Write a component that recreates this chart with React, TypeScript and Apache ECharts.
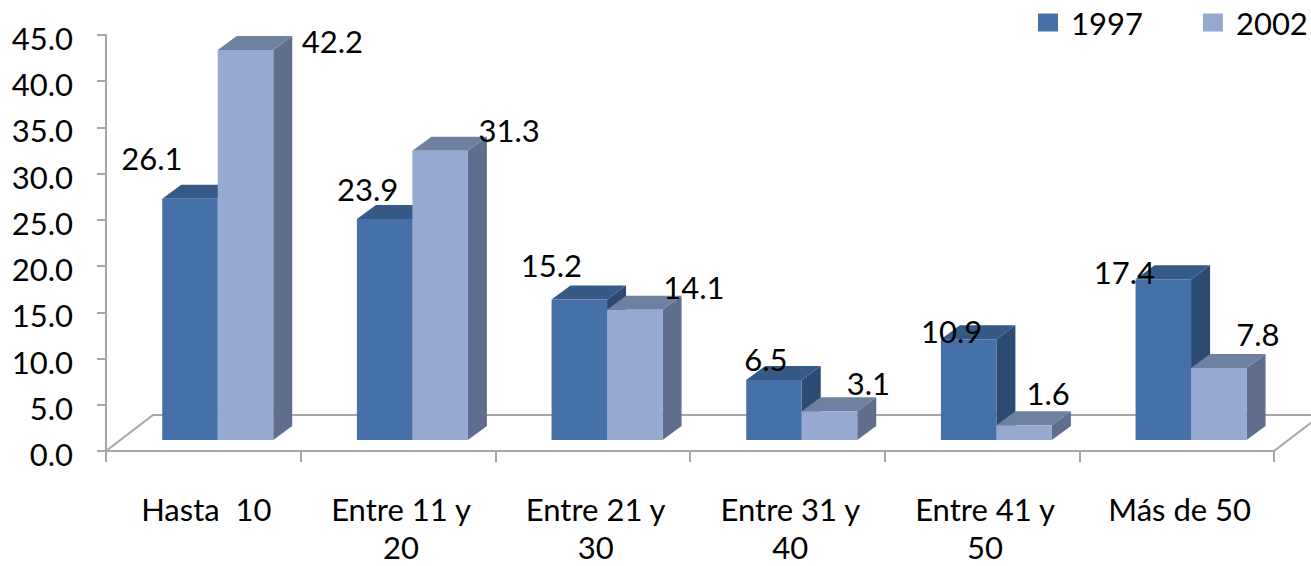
import React, { useEffect, useRef } from "react";
import * as echarts from "echarts";

const categories = ["Hasta  10", "Entre 11 y\n20", "Entre 21 y\n30", "Entre 31 y\n40", "Entre 41 y\n50", "Más de 50"];
const values1997 = [26.1, 23.9, 15.2, 6.5, 10.9, 17.4];
const values2002 = [42.2, 31.3, 14.1, 3.1, 1.6, 7.8];
const labelOffsets1997 = [[-38, -41], [-17, -30], [-28, -34], [-8, -21], [-17, -8], [-39, -7]];
const labelOffsets2002 = [[87, -9], [69, -21], [59, -23], [39, -28], [24, -32], [39, -34]];

const FONT = "Lato";
const FONT_SIZE = 31;
const GROUP_SHIFT = 14.4;
const BASE_LIFT = 11;
const BAR_W = 55.5;
const DX = 19;
const DY = 14;

function barRenderer(sign: number, front: string, top: string, side: string, offsets: number[][]) {
  return (params: any, api: any) => {
    const i = api.value(0);
    const v = api.value(1);
    const c = api.coord([i, v]);
    const c0 = api.coord([i, 0]);
    const xMid = c[0] + GROUP_SHIFT;
    const x0 = sign < 0 ? xMid - BAR_W : xMid;
    const x1 = x0 + BAR_W;
    const yTop = c[1] - BASE_LIFT;
    const yBot = c0[1] - BASE_LIFT;
    const off = offsets[params.dataIndex];
    return {
      type: "group",
      children: [
        { type: "polygon", shape: { points: [[x1, yTop], [x1 + DX, yTop - DY], [x1 + DX, yBot - DY], [x1, yBot]] }, style: { fill: side } },
        { type: "polygon", shape: { points: [[x0, yTop], [x0 + DX, yTop - DY], [x1 + DX, yTop - DY], [x1, yTop]] }, style: { fill: top } },
        { type: "rect", shape: { x: x0, y: yTop, width: BAR_W, height: yBot - yTop }, style: { fill: front } },
        {
          type: "text",
          z2: 100,
          style: {
            text: v.toFixed(1),
            x: (x0 + x1) / 2 + off[0],
            y: yTop + off[1],
            align: "center",
            verticalAlign: "middle",
            font: `${FONT_SIZE}px ${FONT}`,
            fill: "#000",
          },
        },
      ],
    };
  };
}

function floorRenderer(params: any) {
  const cs = params.coordSys;
  const x0 = cs.x;
  const x1 = cs.x + cs.width;
  const y0 = cs.y + cs.height;
  const yb = y0 - 36;
  const stroke = { stroke: "#a6a6a6", lineWidth: 2, fill: "none" };
  return {
    type: "group",
    children: [
      { type: "polyline", shape: { points: [[x0, y0], [x0 + 47, yb], [x1 + 47, yb], [x1, y0]] }, style: stroke },
    ],
  };
}

export default function App() {
  const ref = useRef<HTMLDivElement>(null);
  useEffect(() => {
    const chart = echarts.init(ref.current!, null, { renderer: "svg" });
    const axisLine = { show: true, lineStyle: { color: "#a6a6a6", width: 2 } };
    chart.setOption({
      animation: false,
      grid: { left: 106, right: 37, top: 35, bottom: 115, containLabel: false, outerBoundsMode: "none" },
      legend: {
        orient: "horizontal",
        left: 1038,
        top: 7,
        width: 273,
        itemWidth: 20,
        itemHeight: 18,
        itemGap: 60,
        padding: 0,
        icon: "rect",
        selectedMode: false,
        data: [
          { name: "1997", itemStyle: { color: "#4571a8" } },
          { name: "2002", itemStyle: { color: "#95a9d1" } },
        ],
        textStyle: { fontFamily: FONT, fontSize: FONT_SIZE, color: "#000", padding: [0, 0, 0, 8] },
      },
      xAxis: {
        type: "category",
        data: categories,
        axisLine,
        axisTick: { show: true, length: 11, alignWithLabel: false, lineStyle: { color: "#a6a6a6", width: 2 } },
        axisLabel: {
          interval: 0,
          margin: 39,
          fontFamily: FONT,
          fontSize: FONT_SIZE,
          color: "#000",
          lineHeight: 38,
          padding: [0, 0, 0, 6],
        },
      },
      yAxis: {
        type: "value",
        min: 0,
        max: 45,
        interval: 5,
        axisLine,
        axisTick: { show: true, length: 9, lineStyle: { color: "#a6a6a6", width: 2 } },
        splitLine: { show: false },
        axisLabel: {
          margin: 33,
          fontFamily: FONT,
          fontSize: FONT_SIZE,
          color: "#000",
          verticalAlign: "top",
          lineHeight: 6,
          formatter: (v: number) => v.toFixed(1),
        },
      },
      series: [
        {
          type: "custom",
          name: "floor",
          renderItem: floorRenderer,
          data: [[0, 0]],
          encode: { x: 0, y: 1 },
          silent: true,
          clip: false,
          z: 1,
        },
        {
          type: "custom",
          name: "1997",
          renderItem: barRenderer(-1, "#4571a8", "#345a85", "#2c4b73", labelOffsets1997),
          data: values1997.map((v, i) => [i, v]),
          encode: { x: 0, y: 1 },
          itemStyle: { color: "#4571a8" },
          clip: false,
          z: 2,
        },
        {
          type: "custom",
          name: "2002",
          renderItem: barRenderer(1, "#95a9d1", "#6f81a1", "#5f6e8c", labelOffsets2002),
          data: values2002.map((v, i) => [i, v]),
          encode: { x: 0, y: 1 },
          itemStyle: { color: "#95a9d1" },
          clip: false,
          z: 3,
        },
      ],
    });
    return () => chart.dispose();
  }, []);
  return <div ref={ref} style={{ position: "absolute", left: 0, top: 0, width: 1311, height: 566 }} />;
}
